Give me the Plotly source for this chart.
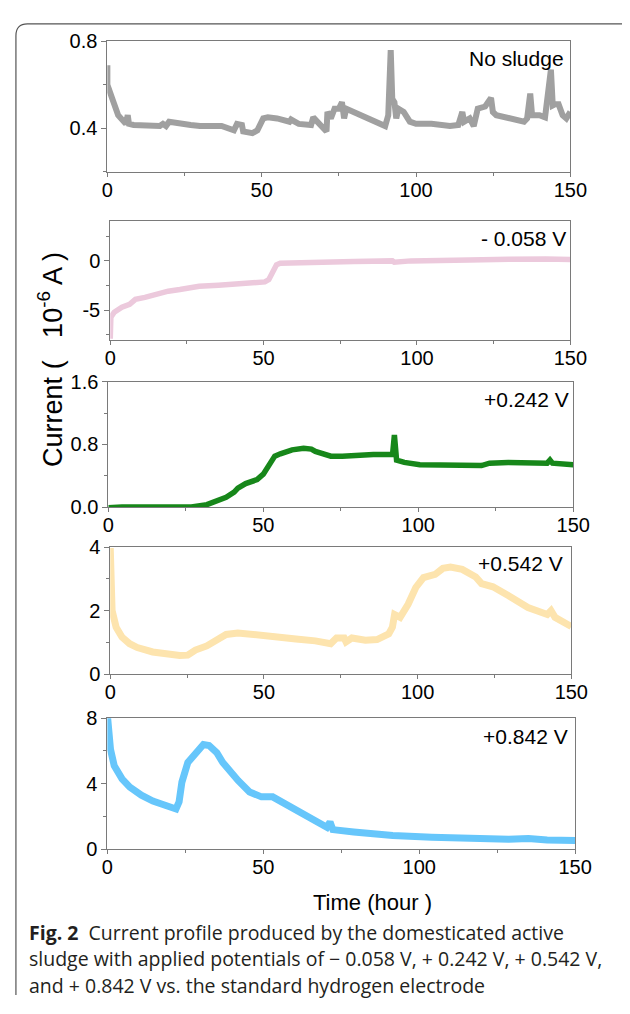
import plotly.graph_objects as go

# Page is 630x1014; the HTML body keeps its default 8px margin, so the figure is 614x998
PAGE_W, PAGE_H, MARGIN = 630, 1014, 8
W, H = PAGE_W - 2 * MARGIN, PAGE_H - 2 * MARGIN

# ---------------- data ----------------
# Panel 1: No sludge
t_ns = [0, 0, 1.6, 3.5, 6, 6.6, 7, 8.5, 17, 18, 19, 20, 27, 30, 37, 41, 42, 43.6, 44, 47, 48.6, 50.5, 52, 55, 59, 59.5, 62, 66,
        66.7, 67, 69, 71, 71.3, 72.4, 73.6, 75, 76, 76.7, 77.4, 80, 83.6, 87.4, 90, 91, 91.8, 92.3, 93, 93.6, 94.3, 96, 98,
        100, 105, 111, 113.7, 115, 115.6, 117.4, 118.7, 120, 122.4, 124.3, 124.9, 126, 130, 135, 136, 137, 137.6, 140,
        141.8, 142.5, 143.7, 144.3, 145, 146.2, 147.5, 148.7, 150]
v_ns = [0.69, 0.60, 0.536, 0.46, 0.42, 0.46, 0.42, 0.415, 0.41, 0.42, 0.41, 0.43, 0.415, 0.41, 0.41, 0.39, 0.42, 0.415, 0.385,
        0.377, 0.39, 0.445, 0.45, 0.445, 0.43, 0.44, 0.42, 0.415, 0.45, 0.445, 0.41, 0.385, 0.475, 0.445, 0.49, 0.49, 0.52,
        0.445, 0.49, 0.475, 0.45, 0.43, 0.41, 0.46, 0.76, 0.536, 0.52, 0.445, 0.49, 0.475, 0.43, 0.42, 0.42, 0.41, 0.415,
        0.475, 0.43, 0.445, 0.41, 0.49, 0.50, 0.54, 0.475, 0.46, 0.445, 0.43, 0.445, 0.56, 0.46, 0.46, 0.45, 0.536, 0.67,
        0.505, 0.51, 0.51, 0.46, 0.445, 0.475]

# Panel 2: -0.058 V
t_m058 = [0, 0.2, 1.3, 3.8, 6.3, 8.2, 11.3, 16.4, 18.9, 22.7, 29, 35.3, 41.6, 44, 47.9, 50.4, 51.7, 52.9, 54.2, 55.4, 60.5,
          66.8, 79.4, 92, 92.6, 98, 104.6, 117, 130, 136, 142, 150]
v_m058 = [-7.9, -5.7, -5.2, -4.7, -4.4, -3.9, -3.7, -3.2, -3.07, -2.9, -2.57, -2.47, -2.33, -2.4, -2.2, -2.13, -1.9, -1.07,
          -0.4, -0.23, -0.17, -0.13, -0.07, 0.0, -0.13, 0.0, 0.07, 0.1, 0.17, 0.23, 0.2, 0.13]

# Panel 3: +0.242 V
t_242 = [0, 4.4, 15, 26.8, 31.8, 34.3, 38, 40.6, 41.8, 44.3, 48, 50, 51.8, 53.7, 55.5, 59.3, 63, 65.5, 66.8, 71.8, 75.5,
         79.2, 85.5, 91.7, 92.3, 93, 95.5, 100.5, 110.4, 116.7, 120.4, 123, 129, 141.6, 142.5, 143.3, 150]
v_242 = [-0.01, 0.0, 0.0, 0.0, 0.03, 0.07, 0.125, 0.19, 0.24, 0.30, 0.35, 0.42, 0.54, 0.65, 0.68, 0.73, 0.75, 0.74, 0.71,
         0.65, 0.65, 0.66, 0.67, 0.67, 0.92, 0.60, 0.57, 0.54, 0.53, 0.53, 0.53, 0.56, 0.57, 0.56, 0.60, 0.56, 0.54]

# Panel 4: +0.542 V
t_542 = [0, 0.1, 0.6, 1.9, 3.8, 6.3, 8.8, 13.8, 18.9, 22.6, 25.2, 27.7, 31.4, 34.6, 37.7, 41.5, 47.8, 54, 60.4, 66.7,
         71.7, 73.6, 76.1, 76.7, 78.6, 83, 86.8, 90.6, 91.8, 92.5, 94.3, 96.9, 99.4, 101.9, 105.7, 108.2, 110.7, 114.5,
         117, 118.9, 120.8, 124.5, 129.6, 135.9, 142.2, 143.4, 144.7, 147.2, 150]
v_542 = [3.97, 3.04, 2.0, 1.48, 1.17, 0.96, 0.84, 0.70, 0.62, 0.59, 0.60, 0.76, 0.89, 1.07, 1.25, 1.30, 1.22, 1.17, 1.11,
         1.05, 0.96, 1.14, 1.14, 1.02, 1.14, 1.07, 1.09, 1.27, 1.48, 1.88, 1.79, 2.2, 2.73, 3.04, 3.14, 3.33, 3.37, 3.30,
         3.19, 3.06, 2.85, 2.75, 2.47, 2.10, 1.88, 2.0, 1.79, 1.64, 1.50]

# Panel 5: +0.842 V
t_842 = [0, 0.3, 1, 2.2, 4.7, 7.2, 10.9, 14.6, 18.4, 20.8, 22, 23, 23.9, 25.8, 28.3, 30.8, 32.6, 35.1, 37, 39.4, 41.9,
         45.6, 49.4, 53, 56.8, 61.8, 66.7, 70.4, 71.4, 72.3, 79, 91.5, 104, 116, 122.5, 128.7, 135, 141, 150]
v_842 = [8.2, 7.1, 6.1, 5.1, 4.3, 3.8, 3.3, 2.94, 2.66, 2.5, 2.46, 2.9, 4.1, 5.3, 5.9, 6.4, 6.34, 5.9, 5.3, 4.7, 4.2,
         3.5, 3.2, 3.2, 2.8, 2.2, 1.7, 1.34, 1.66, 1.2, 1.06, 0.84, 0.74, 0.66, 0.68, 0.62, 0.66, 0.56, 0.54]

labels = ["No sludge", "- 0.058 V", "+0.242 V", "+0.542 V", "+0.842 V"]
x_ticks = [0, 50, 100, 150]
x_ticktext = ["0", "50", "100", "150"]
x_minor = [25, 75, 125]
y_ranges = [[0.2, 0.8], [-8, 4], [0, 1.6], [0, 4], [0, 8]]
y_ticks = [[0.4, 0.8], [-5, 0], [0.0, 0.8, 1.6], [0, 2, 4], [0, 4, 8]]
y_ticktext = [["0.4", "0.8"], ["-5", "0"], ["0.0", "0.8", "1.6"], ["0", "2", "4"], ["0", "4", "8"]]
y_minor = [[0.2, 0.6], [-7.5, -2.5, 2.5], [0.4, 1.2], [1, 3], [2, 6]]

series = [(t_ns, v_ns), (t_m058, v_m058), (t_242, v_242), (t_542, v_542), (t_842, v_842)]
colors = ["#a0a0a0", "#ecc9dc", "#17871a", "#fde4ae", "#66c6fb"]
widths = [6, 5.5, 5.5, 7, 7]

# page-pixel boxes (left, right, top, bottom) of each panel
boxes = [(105, 586, 31, 164), (108, 586, 215, 336), (106, 589, 379, 507), (108, 587, 548, 678), (105, 591, 723, 857)]
label_pos = [(581, 48), (584, 232), (587, 397), (580, 565), (586, 742)]

def px(x):
    return (x - MARGIN) / W

def py(y):
    return 1 - (y - MARGIN) / H

FONT = "Liberation Sans"

fig = go.Figure()
layout = dict(width=W, height=H, margin=dict(l=0, r=0, t=0, b=0), paper_bgcolor="white", plot_bgcolor="white",
              showlegend=False, font=dict(family=FONT, size=20, color="black"))

annotations = []
for i, ((t, v), c, w, box, lab, lp) in enumerate(zip(series, colors, widths, boxes, labels, label_pos)):
    n = i + 1
    xa = "x" if n == 1 else f"x{n}"
    ya = "y" if n == 1 else f"y{n}"
    fig.add_trace(go.Scatter(x=t, y=v, mode="lines", line=dict(color=c, width=w), xaxis=xa, yaxis=ya,
                             hoverinfo="skip"))
    l, r, tp, b = box
    axcommon = dict(showline=True, linecolor="#7a7a7a", linewidth=1, mirror=True, showgrid=False, zeroline=False,
                    ticks="outside", tickcolor="#7a7a7a", tickfont=dict(family=FONT, size=20, color="black"))
    layout["xaxis" if n == 1 else f"xaxis{n}"] = dict(
        domain=[px(l), px(r)], range=[0, 150], anchor=ya, tickmode="array", tickvals=x_ticks, ticktext=x_ticktext,
        ticklen=4, ticklabelstandoff=-4,
        minor=dict(tickvals=x_minor, ticks="outside", ticklen=3, tickcolor="#7a7a7a"), **axcommon)
    layout["yaxis" if n == 1 else f"yaxis{n}"] = dict(
        domain=[py(b), py(tp)], range=y_ranges[i], anchor=xa, tickmode="array", tickvals=y_ticks[i], ticklen=5,
        ticktext=y_ticktext[i], minor=dict(tickvals=y_minor[i], ticks="outside", ticklen=3, tickcolor="#7a7a7a"),
        **axcommon)
    annotations.append(dict(text=lab, x=px(lp[0]), y=py(lp[1]), xref="paper", yref="paper", xanchor="right",
                            yanchor="middle", showarrow=False, font=dict(family=FONT, size=21, color="black")))

annotations.append(dict(text="Current (\u00a0\u00a0 10<sup>-6</sup> A )", x=px(46), y=py(356), xref="paper", yref="paper",
                        textangle=-90, showarrow=False, xanchor="center", yanchor="middle",
                        font=dict(family=FONT, size=27, color="black")))
annotations.append(dict(text="Time (hour )", x=px(380), y=py(911), xref="paper", yref="paper", showarrow=False,
                        xanchor="center", yanchor="middle", font=dict(family=FONT, size=22, color="black")))

CAP = "Open Sans"
cap_lines = ["<b>Fig. 2</b>  Current profile produced by the domesticated active",
             "sludge with applied potentials of \u2212 0.058 V, + 0.242 V, + 0.542 V,",
             "and + 0.842 V vs. the standard hydrogen electrode"]
for j, (txt, yy) in enumerate(zip(cap_lines, [942, 969, 996])):
    annotations.append(dict(text=txt, x=px(22), y=py(yy), xref="paper", yref="paper", showarrow=False,
                            xanchor="left", yanchor="middle", font=dict(family=CAP, size=19.5, color="#231f20")))

layout["annotations"] = annotations
layout["shapes"] = [dict(type="path", xref="paper", yref="paper",
                         path=f"M {px(640)},{py(13)} L {px(22)},{py(13)} Q {px(10)},{py(13)} {px(10)},{py(25)} L {px(10)},{py(1006)}",
                         line=dict(color="#555555", width=1.2))]
fig.update_layout(**layout)
fig.write_html("out.html", config={"displayModeBar": False, "staticPlot": True})
